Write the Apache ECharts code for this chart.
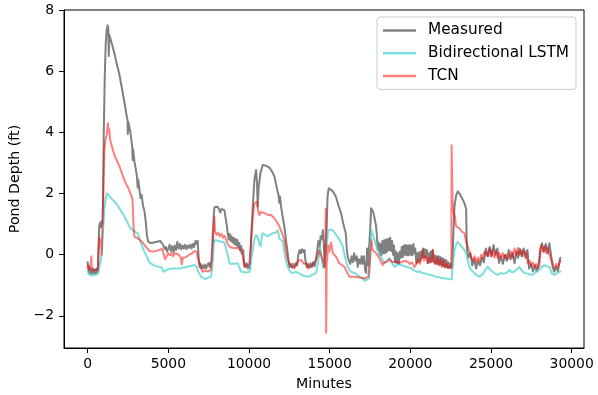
<!DOCTYPE html>
<html>
<head>
<meta charset="utf-8">
<script src="https://cdn.jsdelivr.net/npm/echarts@6/dist/echarts.min.js"></script>
<style>html,body{margin:0;padding:0;background:#fff;}#c{width:598px;height:395px;}</style>
</head>
<body>
<div id="c"></div>
<script>
const seriesNames = ['Measured', 'Bidirectional LSTM', 'TCN'];
const xTicks = [0, 5000, 10000, 15000, 20000, 25000, 30000];
const yTicks = [-2, 0, 2, 4, 6, 8];

const measured = [
[0,-0.25],[50,-0.45],[100,-0.6],[150,-0.42],[200,-0.62],[250,-0.48],[300,-0.6],[350,-0.45],[400,-0.62],[450,-0.5],[500,-0.6],[550,-0.45],[600,-0.58],[640,-0.5],
[680,0.3],[720,0.95],[780,1.05],[830,0.9],[880,1.1],[930,1.0],[960,2.2],[1000,4.0],[1060,5.8],[1120,6.9],[1180,7.35],[1240,7.5],[1280,7.4],[1310,6.5],[1340,7.2],[1400,7.15],[1500,6.9],[1655,6.6],[1800,6.25],[1965,5.9],[2120,5.45],[2275,5.0],[2400,4.6],[2470,4.4],[2490,3.95],[2520,4.35],[2650,4.0],[2760,3.55],[2790,3.1],[2820,3.45],[2900,3.05],[3000,2.75],[3060,2.55],[3100,2.2],[3140,2.45],[3205,2.15],[3280,1.85],[3350,1.95],[3430,1.6],[3515,1.45],[3600,1.1],[3680,0.6],[3760,0.42],[3900,0.38],[4100,0.4],[4300,0.42],[4500,0.45],[4620,0.48],[4700,0.3],[4780,0.18],[4850,0.25],[4920,0.1],[5000,0.2],
[5080,0.32],[5160,0.12],[5240,0.28],[5320,0.08],[5400,0.3],[5480,0.15],[5560,0.42],[5640,0.2],[5720,0.35],[5800,0.18],[5880,0.3],[5960,0.2],[6040,0.32],[6120,0.18],[6200,0.3],[6280,0.22],[6360,0.33],[6440,0.2],[6520,0.35],[6600,0.25],[6680,0.45],[6760,0.35],[6820,0.45],[6880,-0.1],
[6940,-0.4],[7000,-0.3],[7070,-0.45],[7140,-0.35],[7210,-0.45],[7280,-0.32],[7350,-0.45],[7420,-0.35],[7490,-0.27],[7560,-0.4],[7630,-0.27],[7700,-0.2],[7770,0.45],[7820,1.3],[7860,1.55],
[7950,1.6],[8060,1.57],[8160,1.52],[8230,1.38],[8300,1.5],[8370,1.53],[8480,1.45],[8580,1.4],[8640,0.9],[8680,0.7],
[8740,0.5],[8800,0.68],[8860,0.45],[8920,0.6],[8980,0.4],[9040,0.55],[9100,0.35],[9160,0.52],[9220,0.3],[9280,0.48],[9340,0.25],[9400,0.38],[9460,0.15],[9520,0.28],[9580,0.05],[9640,0.15],[9700,-0.3],[9760,-0.4],[9840,-0.28],[9920,-0.45],[10000,-0.35],[10060,-0.45],
[10130,0.48],[10230,1.5],[10335,2.44],[10440,2.77],[10500,2.3],[10540,1.57],[10600,2.2],[10710,2.67],[10850,2.93],[11000,2.92],[11265,2.85],[11450,2.7],[11575,2.55],[11680,2.3],[11760,2.1],[11830,1.95],[11880,1.7],[11920,1.9],[11990,1.57],[12100,1.2],[12195,0.92],[12300,0.45],[12400,0.05],[12500,-0.4],
[12580,-0.3],[12660,-0.42],[12740,-0.3],[12820,-0.4],[12900,-0.28],[12980,-0.35],[13060,0.0],[13140,0.15],[13220,0.05],[13300,0.18],[13380,0.08],[13440,0.15],[13500,-0.2],[13580,-0.4],[13660,-0.3],[13740,-0.42],[13820,-0.28],[13900,-0.4],[13980,-0.25],[14060,-0.38],[14140,-0.2],[14220,0.1],[14300,0.45],[14380,0.25],[14440,0.6],[14520,0.5],[14580,0.8],[14640,0.3],[14690,-0.4],[14740,0.1],[14800,0.6],[14870,1.9],[14940,2.17],[15050,2.15],[15190,2.08],[15300,1.98],[15400,1.88],[15550,1.6],[15710,1.35],[15850,1.0],[16000,0.7],
[16060,0.2],[16120,-0.07],[16200,-0.2],[16280,-0.3],[16360,-0.05],[16440,-0.25],[16520,0.05],[16600,-0.2],[16680,-0.05],[16740,-0.4],[16820,-0.15],[16900,-0.3],[16980,-0.05],[17050,-0.3],[17120,-0.05],[17200,-0.5],[17260,-0.6],[17320,0.2],[17380,-0.35],[17450,-0.4],[17520,0.9],[17570,1.52],[17640,1.48],[17700,1.4],[17780,1.2],[17880,0.92],[17930,0.6],[17980,0.15],
[18030,0.4],[18090,0.0],[18150,0.35],[18210,-0.02],[18270,0.45],[18330,0.05],[18390,0.48],[18450,0.05],[18510,0.5],[18570,0.1],[18630,0.52],[18690,0.15],[18750,0.55],[18810,0.12],[18870,0.45],[18930,0.0],[18990,0.3],[19050,-0.25],[19110,0.1],[19170,-0.28],[19230,0.05],[19290,-0.3],[19350,0.1],[19410,-0.1],[19470,0.25],[19530,-0.08],[19590,0.3],[19650,0.0],[19710,0.32],[19770,-0.02],[19830,0.3],[19890,-0.02],[19950,0.32],[20010,0.0],[20070,0.3],[20130,-0.02],[20190,0.35],[20250,0.05],[20310,0.2],[20370,-0.27],[20430,0.05],[20490,-0.25],[20550,0.08],[20610,-0.2],[20670,0.1],[20730,-0.1],[20790,0.2],[20850,-0.08],[20910,0.18],[20970,-0.1],[21030,0.15],[21090,-0.28],[21150,0.05],[21210,-0.25],[21270,0.1],[21330,-0.2],[21390,0.15],[21450,-0.25],[21510,-0.02],[21570,-0.3],[21630,-0.05],[21690,-0.3],[21750,-0.05],[21810,-0.32],[21870,-0.08],[21930,-0.35],[21990,-0.12],[22050,-0.38],[22110,-0.15],[22170,-0.4],[22230,-0.18],[22290,-0.42],[22350,-0.25],[22410,-0.42],[22470,-0.3],[22530,-0.42],[22600,-0.35],[22660,0.6],[22735,1.57],[22840,1.95],[22940,2.07],[23050,2.0],[23150,1.95],[23250,1.8],[23355,1.68],[23460,1.5],[23490,0.5],[23520,0.15],
[23600,-0.1],[23720,0.05],[23840,-0.35],[23960,-0.15],[24080,-0.45],[24200,-0.2],[24320,-0.35],[24440,-0.1],[24560,-0.25],[24680,0.2],[24800,-0.05],[24920,0.25],[25040,-0.05],[25160,0.32],[25280,0.0],[25400,0.2],[25500,-0.27],[25620,-0.05],[25740,-0.3],[25860,0.0],[25980,-0.2],[26100,0.15],[26220,-0.15],[26340,0.05],[26460,-0.28],[26580,0.1],[26680,-0.1],[26780,0.2],[26900,-0.05],[27020,0.2],[27140,-0.1],[27260,0.15],[27360,-0.45],[27480,-0.3],[27600,-0.55],[27720,-0.35],[27840,-0.55],[27960,-0.3],[28060,0.2],[28160,0.37],[28280,0.1],[28400,0.35],[28520,0.05],[28620,0.37],[28720,0.0],[28820,-0.4],[28920,-0.56],[29040,-0.4],[29150,-0.55],[29250,-0.2],[29300,-0.1]
];

const lstm = [
[0,-0.55],[100,-0.65],[300,-0.68],[500,-0.66],[640,-0.62],[700,-0.5],[760,-0.3],[820,-0.2],[900,0.2],[960,0.8],[1035,1.46],[1120,1.85],[1200,2.0],[1280,1.98],[1360,1.92],[1450,1.85],[1760,1.68],[2170,1.35],[2400,1.12],[2585,0.92],[2790,0.8],[3100,0.7],[3310,0.37],[3515,0.1],[3700,-0.1],[3825,-0.25],[4100,-0.35],[4445,-0.4],[4600,-0.42],[4700,-0.56],[4800,-0.5],[5000,-0.47],[5300,-0.45],[5685,-0.45],[6000,-0.42],[6300,-0.38],[6615,-0.34],[6750,-0.38],[6850,-0.55],[6925,-0.62],[7030,-0.72],[7130,-0.78],[7300,-0.8],[7450,-0.75],[7650,-0.72],[7760,-0.2],[7820,0.37],[7900,0.48],[8100,0.45],[8300,0.42],[8475,0.4],[8580,0.35],[8680,0.0],[8800,-0.3],[8890,-0.28],[9100,-0.3],[9300,-0.28],[9405,-0.3],[9500,-0.55],[9610,-0.6],[9800,-0.58],[10025,-0.56],[10130,-0.2],[10230,0.15],[10330,0.5],[10440,0.64],[10550,0.55],[10650,0.35],[10720,0.28],[10800,0.6],[10850,0.7],[11000,0.65],[11160,0.6],[11300,0.65],[11470,0.7],[11650,0.72],[11780,0.8],[11900,0.5],[12000,0.55],[12100,0.45],[12250,-0.1],[12400,-0.4],[12560,-0.56],[12700,-0.6],[12920,-0.56],[13125,-0.62],[13435,-0.7],[13745,-0.72],[13950,-0.65],[14160,-0.6],[14300,-0.17],[14400,0.26],[14500,-0.1],[14600,-0.45],[14700,-0.5],[14800,0.2],[14900,0.8],[15050,0.82],[15190,0.8],[15400,0.65],[15600,0.5],[15800,0.3],[15950,-0.07],[16120,-0.4],[16300,-0.55],[16535,-0.6],[16850,-0.72],[17050,-0.77],[17155,-0.85],[17300,-0.82],[17450,-0.77],[17540,0.4],[17590,0.8],[17680,0.86],[17780,0.48],[17900,0.25],[18085,0.05],[18250,-0.15],[18395,-0.28],[18550,-0.2],[18705,-0.12],[18850,-0.25],[19015,-0.4],[19200,-0.32],[19430,-0.34],[19650,-0.38],[19840,-0.4],[20050,-0.45],[20200,-0.5],[20360,-0.56],[20550,-0.55],[20770,-0.6],[20950,-0.62],[21180,-0.66],[21400,-0.68],[21590,-0.72],[21800,-0.74],[22010,-0.77],[22200,-0.78],[22425,-0.8],[22570,-0.8],[22650,-0.2],[22735,0.15],[22850,0.35],[22940,0.42],[23045,0.37],[23200,0.25],[23350,0.15],[23460,0.05],[23665,-0.4],[23800,-0.52],[23975,-0.6],[24120,-0.68],[24285,-0.72],[24470,-0.65],[24650,-0.5],[24800,-0.4],[24950,-0.5],[25110,-0.56],[25250,-0.62],[25420,-0.66],[25600,-0.6],[25780,-0.62],[25940,-0.6],[26150,-0.5],[26300,-0.58],[26455,-0.55],[26600,-0.48],[26765,-0.4],[26900,-0.52],[27075,-0.6],[27300,-0.62],[27450,-0.66],[27590,-0.66],[27800,-0.55],[28005,-0.5],[28150,-0.4],[28315,-0.34],[28450,-0.38],[28625,-0.4],[28780,-0.62],[28935,-0.66],[29100,-0.6],[29245,-0.56],[29300,-0.55]
];

const tcn = [
[0,-0.35],[60,-0.5],[150,-0.55],[200,-0.3],[230,-0.05],[260,-0.5],[350,-0.55],[450,-0.5],[550,-0.55],[640,-0.5],[680,0.2],[720,0.55],[770,0.3],[820,0.5],[870,0.0],[920,1.0],[970,1.9],[1035,3.4],[1100,3.75],[1180,3.9],[1250,4.3],[1300,4.0],[1345,4.1],[1400,3.75],[1550,3.45],[1700,3.2],[1965,2.9],[2100,2.7],[2300,2.4],[2500,2.2],[2700,1.95],[2780,1.8],[2850,0.9],[2895,0.6],[3000,0.58],[3205,0.5],[3400,0.4],[3515,0.37],[3700,0.2],[3825,0.12],[4100,0.1],[4445,0.15],[4600,0.2],[4700,0.05],[4800,-0.15],[4900,-0.05],[5000,0.05],[5100,-0.02],[5200,0.05],[5300,-0.05],[5400,0.05],[5500,0.0],[5600,0.02],[5700,0.05],[5780,-0.1],[5830,-0.32],[5900,-0.1],[6000,-0.05],[6100,-0.08],[6200,-0.05],[6300,0.0],[6400,-0.05],[6500,0.05],[6615,0.12],[6750,0.1],[6850,-0.15],[6925,-0.28],[7030,-0.45],[7130,-0.56],[7300,-0.52],[7450,-0.55],[7650,-0.5],[7750,0.7],[7855,1.24],[7900,0.75],[8000,0.65],[8100,0.72],[8200,0.6],[8300,0.68],[8400,0.55],[8475,0.62],[8580,0.5],[8680,0.35],[8800,0.26],[8900,0.3],[9000,0.22],[9100,0.28],[9200,0.22],[9300,0.27],[9400,0.2],[9510,0.26],[9600,0.0],[9715,-0.4],[9850,-0.35],[10025,-0.28],[10130,0.4],[10230,1.2],[10335,1.68],[10500,1.73],[10560,1.45],[10645,1.3],[10750,1.4],[10850,1.4],[11000,1.35],[11200,1.3],[11370,1.3],[11575,1.19],[11750,1.05],[11885,0.92],[12050,0.7],[12195,0.48],[12300,0.1],[12400,-0.17],[12610,-0.4],[12800,-0.45],[12920,-0.45],[13050,-0.2],[13230,-0.17],[13400,-0.3],[13540,-0.28],[13650,-0.45],[13745,-0.5],[13850,-0.38],[13950,-0.34],[14050,-0.25],[14160,-0.17],[14250,-0.05],[14365,0.15],[14450,0.0],[14570,-0.17],[14675,-0.4],[14730,0.2],[14755,1.5],[14785,-2.55],[14820,-0.3],[14850,-0.1],[14920,0.3],[14990,0.1],[15090,0.4],[15190,0.05],[15400,-0.07],[15600,-0.28],[15915,-0.4],[16100,-0.6],[16225,-0.72],[16535,-0.72],[16850,-0.75],[17155,-0.78],[17400,-0.72],[17500,-0.2],
[17590,0.48],[17670,0.15],[17780,0.1],[17880,0.05],[18000,-0.05],[18085,-0.12],[18200,-0.25],[18290,-0.34],[18400,-0.25],[18500,-0.3],[18600,-0.22],[18700,-0.15],[18800,-0.17],[18900,-0.25],[19015,-0.28],[19150,-0.22],[19300,-0.28],[19430,-0.25],[19550,-0.3],[19700,-0.2],[19840,-0.23],[19950,-0.3],[20100,-0.25],[20255,-0.4],[20380,-0.3],[20500,-0.15],[20600,-0.3],[20700,-0.1],[20770,0.15],[20850,-0.2],[20950,-0.05],[21080,-0.28],[21200,-0.1],[21300,-0.25],[21390,0.15],[21450,-0.2],[21550,-0.3],[21650,-0.1],[21750,-0.35],[21850,-0.15],[21950,-0.4],[22050,-0.2],[22150,-0.42],[22250,-0.3],[22350,-0.45],[22450,-0.38],[22540,-0.45],[22560,3.58],[22600,2.2],[22640,1.57],[22700,1.35],[22760,1.25],[22840,0.92],[22950,0.86],[23045,0.86],[23200,0.75],[23355,0.7],[23460,0.45],[23560,0.26],[23660,0.1],[23770,-0.07],[23880,-0.2],[23980,-0.05],[24080,-0.25],[24180,-0.1],[24290,-0.2],[24390,0.0],[24490,-0.12],[24600,0.1],[24700,0.15],[24800,-0.05],[24900,0.2],[25000,-0.05],[25100,0.15],[25215,-0.1],[25320,0.1],[25420,-0.12],[25520,0.05],[25620,-0.1],[25730,0.05],[25840,-0.12],[25950,0.0],[26050,-0.15],[26150,-0.05],[26250,0.1],[26350,-0.1],[26450,0.2],[26560,0.0],[26660,0.22],[26760,0.0],[26870,0.15],[26980,-0.05],[27080,0.12],[27180,0.05],[27280,-0.28],[27390,-0.2],[27490,-0.38],[27590,-0.25],[27700,-0.4],[27800,-0.3],[27900,-0.45],[28000,-0.35],[28060,0.1],[28110,0.3],[28220,0.1],[28320,0.28],[28420,0.05],[28520,0.22],[28620,0.0],[28730,0.05],[28830,-0.3],[28935,-0.45],[29040,-0.3],[29140,-0.4],[29245,-0.28],[29300,-0.2]
];

const colors = ['#808080', 'rgba(72,209,204,0.72)', 'rgba(255,0,0,0.5)'];
const font = 'DejaVu Sans';
const chart = echarts.init(document.getElementById('c'), null, {renderer: 'canvas'});
const dataSets = [measured, lstm, tcn];

chart.setOption({
  animation: false,
  backgroundColor: '#fff',
  grid: {left: 64, right: 14, top: 10, bottom: 47, containLabel: false, outerBoundsMode: 'none', show: true, borderColor: '#000', borderWidth: 1, backgroundColor: 'transparent'},
  legend: {
    data: seriesNames,
    orient: 'vertical',
    left: 377, top: 17,
    icon: 'rect',
    itemWidth: 33, itemHeight: 2.5,
    itemGap: 5.7,
    padding: [5, 7, 5, 6],
    borderColor: '#cccccc', borderWidth: 1, borderRadius: 3,
    backgroundColor: 'rgba(255,255,255,0.8)',
    textStyle: {fontFamily: font, fontSize: 15.3, color: '#000', lineHeight: 17, padding: [0, 0, 0, 7]}
  },
  xAxis: {
    type: 'value', min: -1465, max: 30765,
    name: 'Minutes', nameLocation: 'middle', nameGap: 29,
    nameTextStyle: {fontFamily: font, fontSize: 14.2, color: '#000'},
    axisLine: {show: true, onZero: false, lineStyle: {color: '#000', width: 1}},
    axisTick: {show: true, length: 5, lineStyle: {color: '#000', width: 1}, customValues: xTicks},
    axisLabel: {fontFamily: font, fontSize: 13.9, color: '#000', margin: 9, customValues: xTicks, formatter: v => String(v)},
    splitLine: {show: false}
  },
  yAxis: {
    type: 'value', min: -3.0525, max: 8.0025,
    name: 'Pond Depth (ft)', nameLocation: 'middle', nameGap: 40,
    nameTextStyle: {fontFamily: font, fontSize: 14.2, color: '#000'},
    axisLine: {show: true, onZero: false, lineStyle: {color: '#000', width: 1}},
    axisTick: {show: true, length: 5, lineStyle: {color: '#000', width: 1}, customValues: yTicks},
    axisLabel: {fontFamily: font, fontSize: 13.9, color: '#000', margin: 10, customValues: yTicks, formatter: v => String(v).replace('-', '\u2212')},
    splitLine: {show: false}
  },
  series: seriesNames.map((n, i) => ({
    name: n, type: 'line', data: dataSets[i],
    showSymbol: false, symbol: 'none', smooth: false,
    color: colors[i],
    lineStyle: {color: colors[i], width: 2, join: 'round', cap: 'round'},
    itemStyle: {color: colors[i]},
    z: 2 + i
  }))
});
</script>
</body>
</html>
